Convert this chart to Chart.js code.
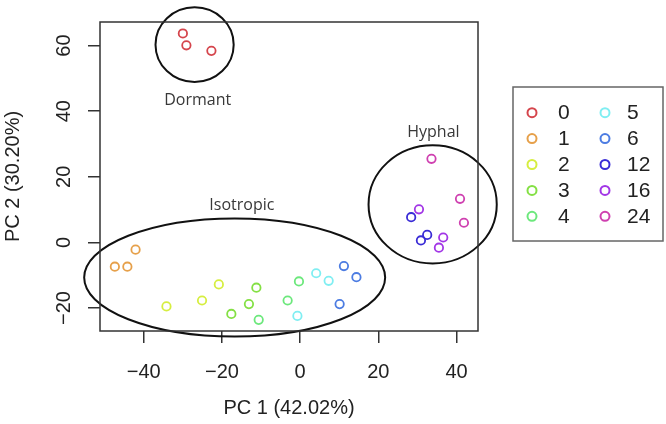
<!DOCTYPE html>
<html>
<head>
<meta charset="utf-8">
<script src="https://cdn.jsdelivr.net/npm/chart.js@4.4.1/dist/chart.umd.min.js"></script>
<style>
  html, body { margin: 0; padding: 0; background: #fff; }
  #graphiqueContainer { width: 666px; height: 424px; }
</style>
</head>
<body>
<div id="graphiqueContainer"><canvas id="myChart" width="666" height="424"></canvas></div>
<script>
// Temps (h) : libellés de la légende
const heures = ['0', '1', '2', '3', '4', '5', '6', '12', '16', '24'];

// Scores PC1 / PC2, 3 réplicats par temps
const pc1 = [
    [-30.0, -29.1, -22.7],
    [-42.1, -47.4, -44.2],
    [-34.2, -25.1, -20.8],
    [-17.6, -13.1, -11.2],
    [-10.6, -3.2, -0.3],
    [4.1, 7.3, -0.7],
    [11.2, 14.4, 10.1],
    [28.4, 32.5, 30.9],
    [30.4, 36.6, 35.5],
    [33.6, 40.9, 41.9]
];
const pc2 = [
    [63.7, 60.1, 58.4],
    [-2.2, -7.4, -7.4],
    [-19.5, -17.7, -12.8],
    [-21.8, -18.8, -13.8],
    [-23.6, -17.7, -11.9],
    [-9.4, -11.7, -22.4],
    [-7.2, -10.6, -18.8],
    [7.7, 2.3, 0.6],
    [10.1, 1.5, -1.6],
    [25.5, 13.3, 6.0]
];

const couleurs = ['#d5454c', '#e6a04a', '#d6ee40', '#84e044', '#6ce87c',
                  '#80eef2', '#4c7ce2', '#3a2cd6', '#a236e6', '#cf40b0'];

// Graduations
const xTicks = [-40, -20, 0, 20, 40];
const xTickLabels = ['\u221240', '\u221220', '0', '20', '40'];
const yTicks = [-20, 0, 20, 40, 60];
const yTickLabels = ['\u221220', '0', '20', '40', '60'];

// Groupes entourés (unités des axes)
const groupes = ['Dormant', 'Isotropic', 'Hyphal'];
const groupeCx = [-27.0, -16.75, 33.9];
const groupeCy = [60.3, -10.7, 11.6];
const groupeRx = [10.0, 38.5, 16.4];
const groupeRy = [11.4, 18.0, 18.0];
const etiquetteX = [-26.2, -14.9, 34.1];
const etiquetteY = [43.2, 11.4, 33.4];

const policeAxe = '"Liberation Sans", Arial, sans-serif';

// Cadre, ellipses, graduations Y tournées et légende à deux colonnes
const decorPlugin = {
    id: 'decor',
    beforeDatasetsDraw(chart) {
        const { ctx, chartArea, scales: { x, y } } = chart;
        ctx.save();

        // ellipses des groupes
        ctx.strokeStyle = '#111';
        ctx.lineWidth = 2;
        groupes.forEach((nom, i) => {
            const cx = x.getPixelForValue(groupeCx[i]);
            const cy = y.getPixelForValue(groupeCy[i]);
            const rx = Math.abs(x.getPixelForValue(groupeCx[i] + groupeRx[i]) - cx);
            const ry = Math.abs(y.getPixelForValue(groupeCy[i] + groupeRy[i]) - cy);
            ctx.beginPath();
            ctx.ellipse(cx, cy, rx, ry, 0, 0, 2 * Math.PI);
            ctx.stroke();

            ctx.fillStyle = '#383838';
            ctx.font = '16px "Open Sans", sans-serif';
            ctx.textAlign = 'center';
            ctx.textBaseline = 'middle';
            ctx.fillText(nom, x.getPixelForValue(etiquetteX[i]), y.getPixelForValue(etiquetteY[i]));
        });

        // cadre du graphique
        ctx.strokeStyle = '#333';
        ctx.lineWidth = 1.5;
        ctx.strokeRect(chartArea.left, chartArea.top,
            chartArea.right - chartArea.left, chartArea.bottom - chartArea.top);

        // étiquettes Y verticales (style R)
        ctx.fillStyle = '#222';
        ctx.font = '20px ' + policeAxe;
        ctx.textAlign = 'center';
        ctx.textBaseline = 'middle';
        y.ticks.forEach((t, i) => {
            ctx.save();
            ctx.translate(chartArea.left - 36, y.getPixelForValue(t.value));
            ctx.rotate(-Math.PI / 2);
            ctx.fillText(yTickLabels[i], 0, 0);
            ctx.restore();
        });

        // légende
        const lx = 513, ly = 87, lw = 150, lh = 154;
        ctx.strokeStyle = '#666';
        ctx.lineWidth = 1.5;
        ctx.strokeRect(lx, ly, lw, lh);
        ctx.font = '21px ' + policeAxe;
        ctx.textAlign = 'left';
        heures.forEach((h, i) => {
            const col = Math.floor(i / 5);
            const row = i % 5;
            const my = 112.7 + row * 25.9;
            const mx = col === 0 ? 532 : 605;
            ctx.strokeStyle = couleurs[i];
            ctx.lineWidth = 2;
            ctx.beginPath();
            ctx.arc(mx, my, 4.5, 0, 2 * Math.PI);
            ctx.stroke();
            ctx.fillStyle = '#222';
            ctx.fillText(h, col === 0 ? 558 : 627, my + 1);
        });

        ctx.restore();
    }
};

const datasets = heures.map((h, i) => ({
    label: h,
    data: pc1[i].map((v, j) => ({ x: v, y: pc2[i][j] })),
    borderColor: couleurs[i],
    backgroundColor: 'rgba(0,0,0,0)',
    pointRadius: 4.2,
    pointBorderWidth: 1.8,
    pointHoverRadius: 4.2
}));

const ctx = document.getElementById('myChart').getContext('2d');
const chart = new Chart(ctx, {
    type: 'scatter',
    data: { datasets: datasets },
    plugins: [decorPlugin],
    options: {
        responsive: false,
        animation: false,
        layout: { padding: { left: 0, top: 22, right: 188, bottom: 0 } },
        plugins: {
            legend: { display: false },
            tooltip: { enabled: false }
        },
        scales: {
            x: {
                type: 'linear',
                min: -51.2,
                max: 45.5,
                afterBuildTicks: (s) => { s.ticks = xTicks.map(v => ({ value: v })); },
                afterFit: (s) => { s.height = 93; },
                ticks: {
                    callback: (v, i) => xTickLabels[i],
                    font: { family: policeAxe, size: 20 },
                    color: '#222',
                    padding: 17,
                    maxRotation: 0,
                    autoSkip: false
                },
                grid: { drawOnChartArea: false, drawTicks: true, tickLength: 12, color: '#333', lineWidth: 1.5 },
                border: { display: false },
                title: {
                    display: true,
                    text: 'PC 1 (42.02%)',
                    font: { family: policeAxe, size: 20 },
                    color: '#222',
                    padding: { top: 0, bottom: 4 }
                }
            },
            y: {
                type: 'linear',
                min: -27.0,
                max: 67.2,
                afterBuildTicks: (s) => { s.ticks = yTicks.map(v => ({ value: v })); },
                afterFit: (s) => { s.width = 100; },
                ticks: { display: false },
                grid: { drawOnChartArea: false, drawTicks: true, tickLength: 12, color: '#333', lineWidth: 1.5 },
                border: { display: false },
                title: {
                    display: true,
                    text: 'PC 2 (30.20%)',
                    font: { family: policeAxe, size: 20 },
                    color: '#222',
                    padding: { top: 1.5, bottom: 0 }
                }
            }
        }
    }
});
</script>
</body>
</html>
